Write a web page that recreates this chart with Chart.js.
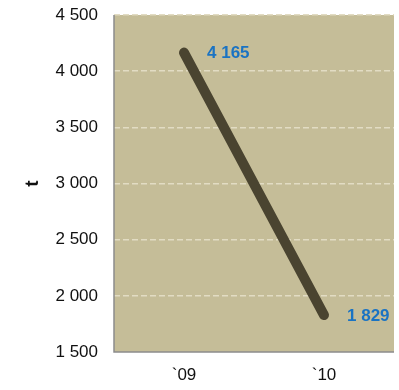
<!DOCTYPE html>
<html>
<head>
<meta charset="utf-8">
<style>
  html, body { margin: 0; padding: 0; background: #ffffff; }
  #wrap { width: 399px; height: 390px; position: relative; }
</style>
<script src="https://cdn.jsdelivr.net/npm/chart.js@4/dist/chart.umd.min.js"></script>
</head>
<body>
<div id="wrap"><canvas id="c" width="399" height="390"></canvas></div>
<script>
// Years and tonnage
const categories = ['`09', '`10'];
const tonnes = [4165, 1829];
const yTicks = [1500, 2000, 2500, 3000, 3500, 4000, 4500];

const fmt = v => String(v).replace(/\B(?=(\d{3})+(?!\d))/g, ' ');
const FONT = '"Liberation Sans", Arial, sans-serif';

// Fills the plot area and draws the axis lines
const plotBackground = {
  id: 'plotBackground',
  beforeDraw(chart) {
    const { ctx, chartArea: a } = chart;
    ctx.save();
    ctx.fillStyle = '#c5bd98';
    ctx.fillRect(a.left, a.top, a.right - a.left, a.bottom - a.top);
    ctx.restore();
  },
  afterDatasetsDraw(chart) {
    const { ctx, chartArea: a } = chart;
    ctx.save();
    ctx.strokeStyle = '#8c8c8c';
    ctx.lineWidth = 1.5;
    ctx.beginPath();
    ctx.moveTo(a.left, a.top);
    ctx.lineTo(a.left, a.bottom);
    ctx.lineTo(a.right, a.bottom);
    ctx.stroke();
    ctx.restore();
  }
};

// Value labels to the right of each point
const valueLabels = {
  id: 'valueLabels',
  afterDatasetsDraw(chart) {
    const { ctx } = chart;
    const meta = chart.getDatasetMeta(0);
    ctx.save();
    ctx.font = 'bold 17px ' + FONT;
    ctx.fillStyle = '#1a73c3';
    ctx.textAlign = 'left';
    ctx.textBaseline = 'middle';
    meta.data.forEach((pt, i) => {
      ctx.fillText(fmt(tonnes[i]), pt.x + 23, pt.y + 1);
    });
    ctx.restore();
  }
};

new Chart(document.getElementById('c'), {
  type: 'line',
  data: {
    labels: categories,
    datasets: [{
      data: tonnes,
      borderColor: '#4a4430',
      borderWidth: 10,
      borderCapStyle: 'round',
      pointRadius: 0,
      tension: 0
    }]
  },
  options: {
    responsive: false,
    animation: false,
    layout: { padding: { top: 15, right: 5, left: 0, bottom: 0 } },
    plugins: { legend: { display: false }, tooltip: { enabled: false } },
    scales: {
      x: {
        offset: true,
        afterFit(scale) { scale.height = 38; },
        grid: { display: false, drawTicks: false },
        border: { display: false },
        ticks: {
          color: '#111',
          padding: 13,
          font: { family: FONT, size: 17 }
        }
      },
      y: {
        min: 1500,
        max: 4500,
        afterBuildTicks(scale) { scale.ticks = yTicks.map(v => ({ value: v })); },
        afterFit(scale) {
          scale.width = 114;
          scale.paddingTop = 0;
          scale.paddingBottom = 0;
        },
        grid: {
          color: ctx => ctx.tick && ctx.tick.value === 1500 ? 'rgba(0,0,0,0)' : '#e2dcc3',
          lineWidth: 1.5,
          drawTicks: false
        },
        border: { display: false, dash: [6, 3] },
        ticks: {
          color: '#111',
          padding: 16,
          callback: v => fmt(v),
          font: { family: FONT, size: 17 }
        },
        title: {
          display: true,
          text: 't',
          color: '#111',
          padding: { top: 21, bottom: 0 },
          font: { family: FONT, size: 19, weight: 'bold' }
        }
      }
    }
  },
  plugins: [plotBackground, valueLabels]
});
</script>
</body>
</html>
